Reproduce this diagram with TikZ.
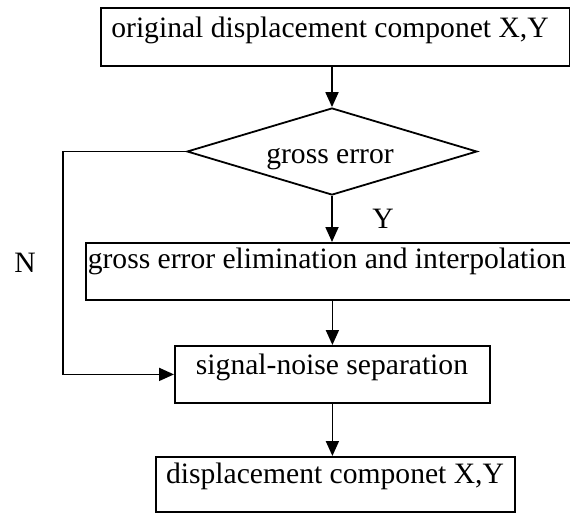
\documentclass[tikz,border=0pt]{standalone}
\usepackage{fontspec}
\setmainfont{Liberation Serif}
\usetikzlibrary{arrows.meta,shapes.geometric}
\tikzset{
  box/.style={draw=black,line width=1.8pt,rectangle,inner sep=0pt,anchor=north west},
  txt/.style={anchor=base,inner sep=0pt,font=\fontsize{29.6}{34}\selectfont},
  arr/.style={draw=black,line width=1.8pt,-{Triangle[length=15pt,width=13pt]}},
}
\begin{document}
\begin{tikzpicture}[x=1pt,y=-1pt]
\useasboundingbox (0,0) rectangle (570,512);
\clip (0,0) rectangle (570,512);
% boxes
\node[box,minimum width=469pt,minimum height=58pt] (top) at (100,7) {};
\node[shape=diamond,draw=black,line width=1.8pt,inner sep=0pt,minimum width=290pt,minimum height=87pt] (dia) at (332,151.5) {};
\node[box,minimum width=490pt,minimum height=57pt] (elim) at (85,242) {};
\node[box,minimum width=315pt,minimum height=57pt] (sig) at (174,345) {};
\node[box,minimum width=359pt,minimum height=55pt] (fin) at (155,456) {};
% texts
\node[txt] (toptext) at (330,37) {original displacement componet X,Y};
\node[txt] (diatext) at (330,163) {gross error};
\node[txt] (elimtext) at (327,268) {gross error elimination and interpolation};
\node[txt] (sigtext) at (332,374) {signal-noise separation};
\node[txt] (fintext) at (335,483) {displacement componet X,Y};
\node[txt] (ylab) at (383,228) {Y};
\node[txt] (nlab) at (25,272) {N};
% connectors
\draw[arr] (dia.north |- top.south) -- (dia.north);
\draw[arr] (dia.south) -- (dia.south |- elim.north);
\draw[arr] (sig.north |- elim.south) -- (sig.north);
\draw[arr] (sig.south) -- (sig.south |- fin.north);
\draw[arr] (dia.west) -- ++(-123,0) |- (sig.west);
\end{tikzpicture}
\end{document}
